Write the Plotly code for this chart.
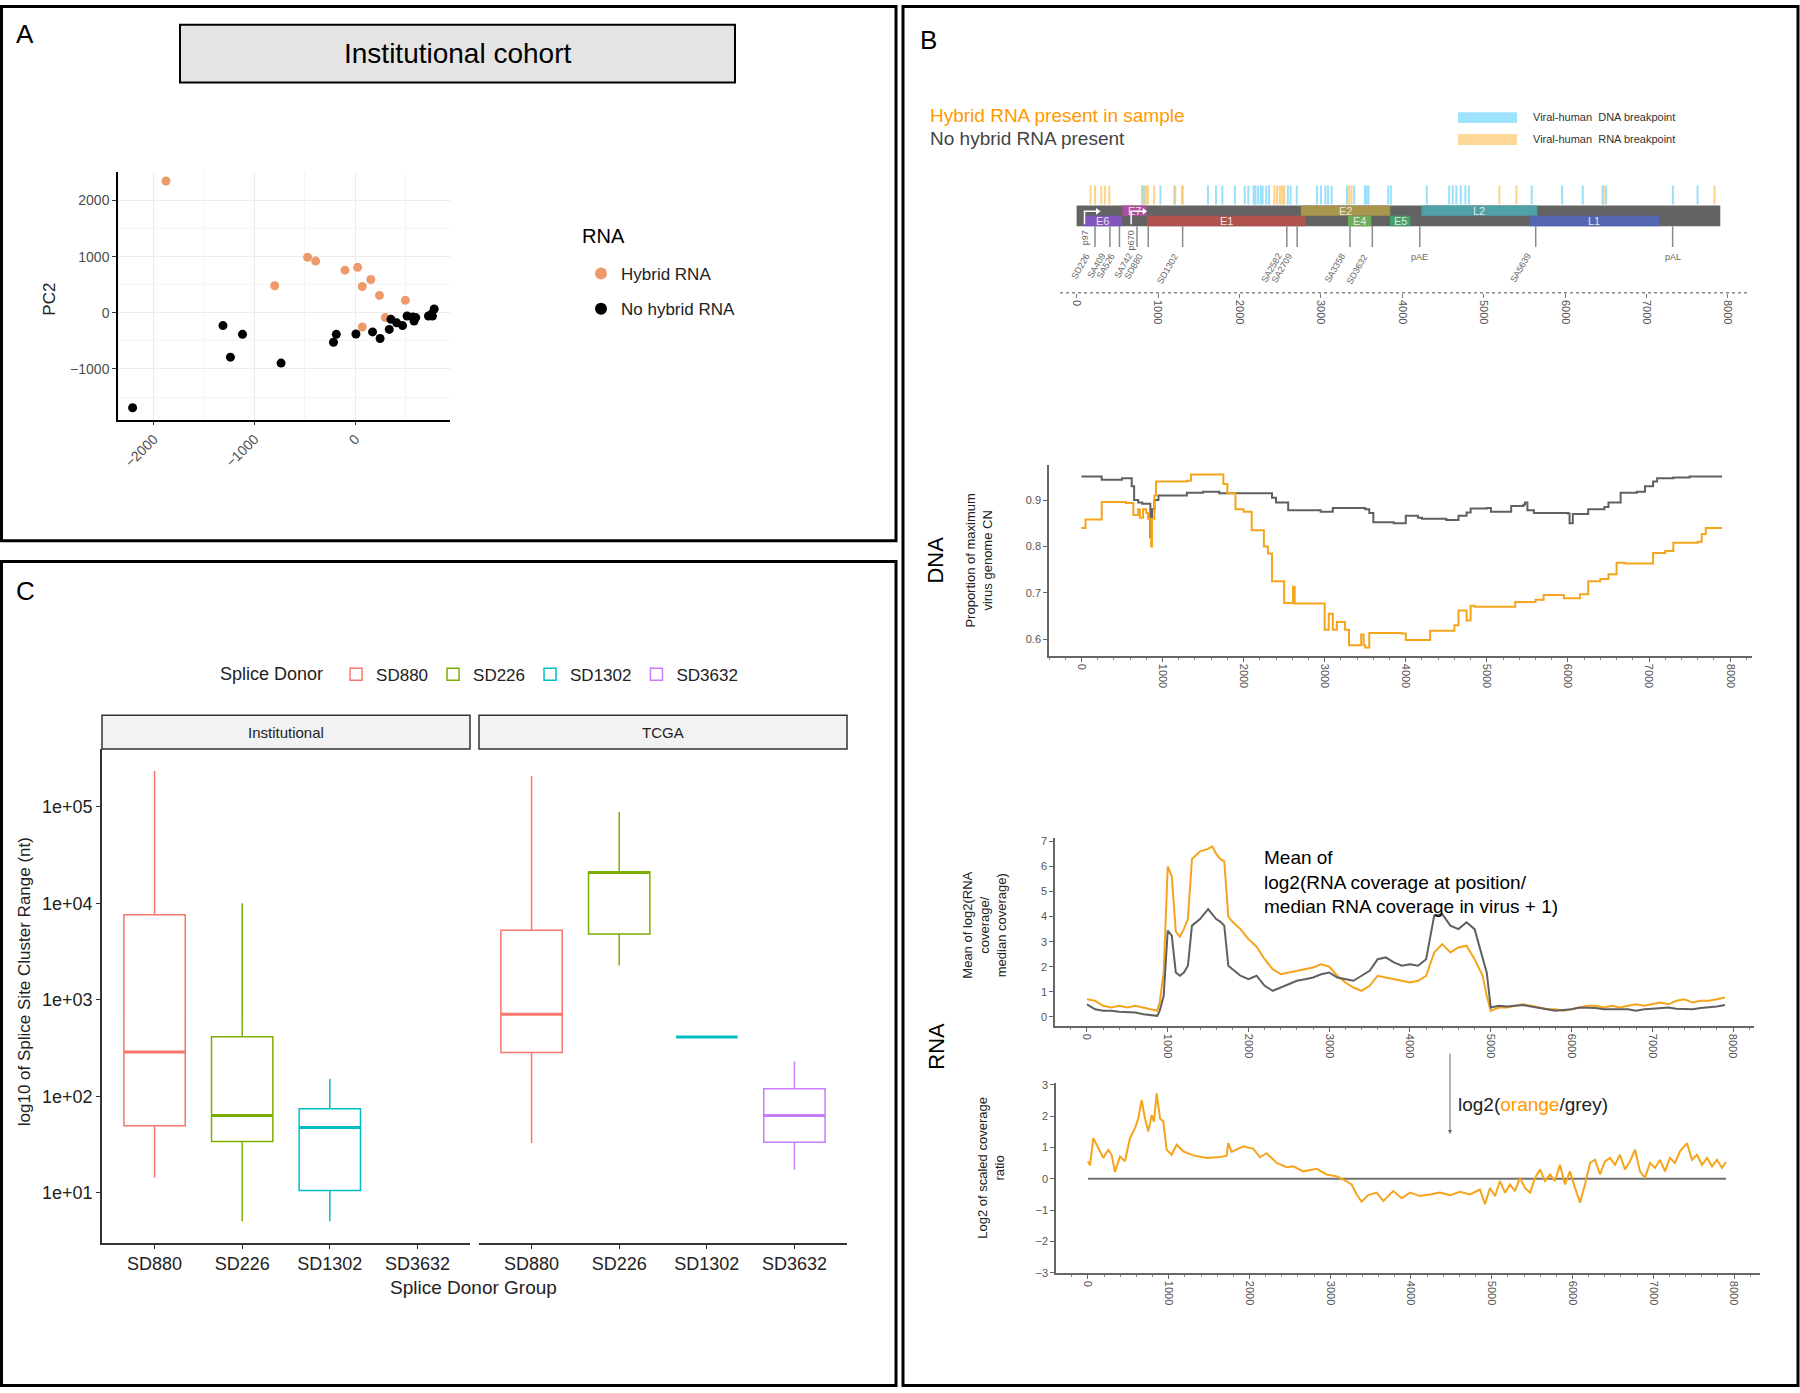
import plotly.graph_objects as go

W, H = 1800, 1393


def px(x):
    return x / W


def py(y):
    return 1 - y / H


NARROW = "Liberation Sans Narrow, Arial Narrow, sans-serif"
SANS = "Liberation Sans, Arial, sans-serif"
ORANGE = "#F5A41C"
GREY = "#606060"

# ---------------------------------------------------------------------------
# Panel A -- PCA of institutional cohort
# ---------------------------------------------------------------------------
HYB_PC1 = [-1880, -474, -394, -800, -103, 23, 154, 69, 240, 497, 297, 69]
HYB_PC2 = [2346, 988, 920, 481, 759, 809, 593, 469, 309, 222, -86, -253]
NOH_PC1 = [-2211, -1314, -1120, -1240, -737, -217, -189, 6, 171, 246, 337,
           354, 411, 469, 514, 571, 583, 600, 726, 754, 783, 766]
NOH_PC2 = [-1691, -228, -383, -790, -895, -525, -383, -377, -340, -457, -296,
           -117, -179, -228, -56, -74, -148, -86, -56, -25, 68, -56]

# ---------------------------------------------------------------------------
# Panel B -- HPV genome map
# ---------------------------------------------------------------------------
GENOME_LEN = 7906
GENES = ["E6", "E7", "E1", "E2", "E4", "E5", "L2", "L1"]
GENE_START = [83, 562, 865, 2755, 3333, 3849, 4236, 5560]
GENE_END = [559, 858, 2813, 3852, 3620, 4100, 5657, 7155]
GENE_ROW = ["low", "up", "low", "up", "low", "low", "up", "low"]
GENE_COLORS = ["#8256BF", "#B04E9C", "#B0534F", "#A8964D", "#6DAD57",
               "#44A068", "#4EA2A6", "#5566B0"]

SITES = ["SD226", "SA409", "SA526", "SA742", "SD880", "SD1302", "SA2582",
         "SA2709", "SA3358", "SD3632", "SA5639"]
SITE_POS = [226, 409, 526, 742, 880, 1302, 2582, 2709, 3358, 3632, 5639]
POLYA = ["pAE", "pAL"]
POLYA_POS = [4215, 7321]
PROMOTERS = ["p97", "p670"]
PROMOTER_POS = [97, 670]

RNA_BREAKS = [171, 226, 303, 347, 402, 820, 854, 876, 953, 1212, 1294, 1305,
              2429, 2462, 2495, 2517, 2539, 2550, 3348, 3376, 5193, 5402,
              6476, 7836]
DNA_BREAKS = [804, 832, 1030, 1201, 1614, 1713, 1790, 1944, 2065, 2109, 2175,
              2197, 2230, 2263, 2285, 2329, 2363, 2594, 2627, 2704, 2952, 3001,
              3056, 3089, 3133, 3321, 3409, 3541, 3563, 3585, 3827, 3860, 4301,
              4576, 4620, 4664, 4719, 4775, 4819, 5590, 5964, 6217, 6460, 6504,
              7324, 7627]

# DNA copy number (step lines)
DNA_GREY_POS = [0, 250, 500, 620, 650, 700, 750, 850, 870, 900, 950, 1300,
                1500, 1700, 2300, 2350, 2400, 2550, 2950, 3100, 3500, 3550,
                3600, 3850, 4000, 4150, 4200, 4500, 4650, 4750, 4800, 5000,
                5050, 5300, 5450, 5470, 5500, 5580, 6000, 6020, 6060, 6250,
                6450, 6500, 6650, 6850, 6950, 7050, 7100, 7300, 7500, 7900]
DNA_GREY = [0.951, 0.944, 0.947, 0.93, 0.90, 0.895, 0.892, 0.82, 0.88, 0.90,
            0.91, 0.916, 0.918, 0.915, 0.915, 0.905, 0.895, 0.878, 0.875,
            0.883, 0.880, 0.872, 0.852, 0.850, 0.866, 0.862, 0.860, 0.857,
            0.866, 0.873, 0.882, 0.883, 0.875, 0.887, 0.890, 0.895, 0.878,
            0.872, 0.871, 0.850, 0.870, 0.880, 0.885, 0.895, 0.916, 0.918,
            0.930, 0.940, 0.947, 0.949, 0.951, 0.951]
DNA_ORANGE_POS = [0, 50, 250, 550, 640, 700, 720, 760, 800, 820, 860, 870,
                  900, 920, 1300, 1350, 1700, 1750, 1800, 1900, 2000, 2100,
                  2250, 2300, 2350, 2500, 2610, 2630, 2950, 3000, 3050, 3100,
                  3150, 3250, 3300, 3450, 3480, 3500, 3550, 3950, 4000, 4300,
                  4600, 4650, 4750, 4800, 4850, 5350, 5600, 5700, 5950, 6150,
                  6250, 6400, 6500, 6600, 6700, 7050, 7200, 7300, 7600, 7650,
                  7700, 7900]
DNA_ORANGE = [0.840, 0.858, 0.896, 0.894, 0.868, 0.880, 0.862, 0.880, 0.872,
              0.860, 0.80, 0.86, 0.91, 0.940, 0.942, 0.955, 0.955, 0.935,
              0.915, 0.88, 0.875, 0.835, 0.80, 0.785, 0.725, 0.678, 0.713,
              0.677, 0.677, 0.62, 0.655, 0.62, 0.637, 0.62, 0.587, 0.61,
              0.587, 0.582, 0.613, 0.612, 0.598, 0.618, 0.63, 0.662, 0.64,
              0.672, 0.670, 0.68, 0.685, 0.695, 0.688, 0.697, 0.725, 0.73,
              0.74, 0.765, 0.763, 0.786, 0.79, 0.808, 0.81, 0.827, 0.84, 0.84]

# RNA coverage
RNA_POS = [0, 100, 200, 300, 400, 500, 600, 700, 800, 870, 900, 950, 1000,
           1050, 1100, 1150, 1200, 1250, 1300, 1400, 1500, 1550, 1600, 1650,
           1700, 1750, 1800, 1900, 2000, 2100, 2200, 2300, 2400, 2500, 2600,
           2700, 2800, 2900, 3000, 3100, 3200, 3300, 3400, 3500, 3600, 3700,
           3800, 3900, 4000, 4100, 4200, 4300, 4400, 4500, 4600, 4700, 4800,
           4900, 4950, 5000, 5100, 5200, 5300, 5400, 5500, 5600, 5700, 5800,
           5900, 6000, 6100, 6200, 6300, 6400, 6500, 6600, 6700, 6800, 6900,
           7000, 7100, 7200, 7300, 7400, 7500, 7600, 7700, 7800, 7900]
RNA_ORANGE = [0.70, 0.64, 0.44, 0.37, 0.44, 0.37, 0.44, 0.37, 0.30, 0.24,
              0.57, 1.77, 6.0, 5.6, 3.4, 3.2, 3.5, 3.9, 6.3,
              6.6, 6.7, 6.8, 6.5, 6.3, 6.2, 4.0, 3.8,
              3.5, 3.1, 2.8, 2.3, 1.9, 1.7, 1.77, 1.84, 1.9, 1.97,
              2.1, 2.0, 1.64, 1.37, 1.17, 1.04, 1.24, 1.64, 1.57, 1.5,
              1.44, 1.37, 1.44, 1.64, 2.57, 2.9, 2.57, 2.77, 2.84, 2.3,
              1.64, 0.84,
              0.24, 0.37, 0.37, 0.44, 0.5, 0.44, 0.37, 0.3, 0.3, 0.24,
              0.3, 0.37, 0.44, 0.44, 0.37, 0.44, 0.37, 0.44, 0.5, 0.44,
              0.5, 0.57, 0.5, 0.64, 0.7, 0.57, 0.64, 0.64, 0.7, 0.77]
RNA_GREY = [0.5, 0.3, 0.24, 0.24, 0.2, 0.2, 0.17, 0.1, 0.07, 0.04,
            0.24, 0.84, 3.44, 3.24, 1.77, 1.64, 1.77, 2.04, 3.64,
            3.9, 4.3, 4.1, 3.9, 3.8, 3.64, 2.04, 1.9,
            1.64, 1.5, 1.64, 1.24, 1.04, 1.17, 1.3, 1.44, 1.5, 1.57,
            1.7, 1.77, 1.57, 1.5, 1.44, 1.64, 1.84, 2.3, 2.37, 2.17,
            2.04, 2.1, 2.04, 2.3, 4.04, 4.1, 3.64, 3.5, 3.77, 3.5,
            2.3, 1.77,
            0.37, 0.44, 0.41, 0.44, 0.47, 0.41, 0.37, 0.3, 0.24, 0.27,
            0.3, 0.37, 0.37, 0.35, 0.3, 0.3, 0.32, 0.3, 0.24, 0.3,
            0.32, 0.35, 0.37, 0.32, 0.3, 0.3, 0.35, 0.37, 0.41, 0.47]

# log2 ratio orange/grey
RATIO_POS = [0, 25, 66, 128, 190, 252, 293, 334, 396, 458,
             520, 582, 623, 665, 706, 747, 789, 817, 851, 892,
             933, 974, 1036, 1098, 1180, 1304, 1470, 1635, 1718, 1737,
             1779, 1924, 2048, 2130, 2213, 2337, 2461, 2543, 2667, 2832,
             2956, 3080, 3162, 3265, 3327, 3389, 3471, 3575, 3657, 3781,
             3885, 3988, 4111, 4235, 4359, 4483, 4607, 4731, 4854, 4916,
             4978, 5040, 5102, 5164, 5226, 5288, 5350, 5412, 5474, 5536,
             5598, 5659, 5721, 5783, 5845, 5907, 5969, 6031, 6093, 6155,
             6217, 6279, 6341, 6402, 6464, 6526, 6588, 6650, 6712, 6774,
             6836, 6898, 6960, 7022, 7084, 7146, 7207, 7269, 7331, 7418,
             7480, 7542, 7604, 7666, 7728, 7789, 7851, 7901]
RATIO = [0.56, 0.43, 1.30, 0.98, 0.67, 0.93, 0.77, 0.22, 0.72, 0.56,
         1.30, 1.62, 1.93, 2.52, 1.93, 1.51, 2.04, 1.83, 2.73, 1.93,
         1.83, 0.93, 0.77, 1.09, 0.88, 0.75, 0.67, 0.70, 0.74, 1.14,
         0.86, 1.04, 0.96, 0.69, 0.82, 0.51, 0.37, 0.40, 0.24, 0.32,
         0.14, 0.08, -0.02, -0.18, -0.50, -0.73, -0.52, -0.44, -0.71, -0.39,
         -0.62, -0.44, -0.55, -0.50, -0.44, -0.52, -0.41, -0.50, -0.34, -0.81,
         -0.29, -0.55, -0.07, -0.44, -0.18, -0.39, 0.03, -0.29, -0.44, 0.03,
         0.30, -0.07, 0.14, -0.07, 0.45, -0.18, 0.24, -0.29, -0.76, -0.18,
         0.51, 0.61, 0.14, 0.56, 0.67, 0.45, 0.77, 0.30, 0.56, 0.93,
         0.24, 0.03, 0.51, 0.35, 0.61, 0.24, 0.67, 0.51, 0.88, 1.14,
         0.61, 0.77, 0.45, 0.67, 0.40, 0.61, 0.35, 0.54]

# ---------------------------------------------------------------------------
# Panel C -- splice site cluster range
# ---------------------------------------------------------------------------
GROUPS = ["SD880", "SD226", "SD1302", "SD3632"]
BOX_COLORS = ["#F8766D", "#7CAE00", "#00BFC4", "#C77CFF"]
INST_LOW = [14.4, 5.1, 5.1, None]
INST_Q1 = [49.5, 34, 10.6, None]
INST_MED = [288, 63.5, 47.5, None]
INST_Q3 = [7600, 414, 74.5, None]
INST_HIGH = [234000, 10000, 152, None]
TCGA_LOW = [32.8, 2270, 411, 17.5]
TCGA_Q1 = [284, 4800, 411, 33.4]
TCGA_MED = [707, 20800, 411, 63.5]
TCGA_Q3 = [5250, 21000, 411, 120]
TCGA_HIGH = [208000, 87800, 411, 229]


def segs(positions, y0, y1):
    xs, ys = [], []
    for p in positions:
        xs += [p, p, None]
        ys += [y0, y1, None]
    return xs, ys


fig = go.Figure()

# ---- A: scatter
fig.add_trace(go.Scatter(x=HYB_PC1, y=HYB_PC2, mode="markers", name="Hybrid RNA",
                         marker=dict(color="#EE9A6A", size=9), legendgroup="h",
                         xaxis="x", yaxis="y"))
fig.add_trace(go.Scatter(x=NOH_PC1, y=NOH_PC2, mode="markers", name="No hybrid RNA",
                         marker=dict(color="black", size=9), legendgroup="n",
                         xaxis="x", yaxis="y"))

# ---- B: genome map (y2 in pixel-like units)
bx, by = segs(DNA_BREAKS, 182, 201)
fig.add_trace(go.Scatter(x=bx, y=by, mode="lines", showlegend=False, hoverinfo="skip",
                         line=dict(color="rgba(130,215,248,0.8)", width=2),
                         xaxis="x2", yaxis="y2"))
bx, by = segs(RNA_BREAKS, 182, 201)
fig.add_trace(go.Scatter(x=bx, y=by, mode="lines", showlegend=False, hoverinfo="skip",
                         line=dict(color="rgba(252,200,110,0.8)", width=2),
                         xaxis="x2", yaxis="y2"))
fig.add_trace(go.Bar(y=[212.5], x=[GENOME_LEN], base=[0], width=[21], orientation="h",
                     marker=dict(color="#636363", line_width=0), showlegend=False,
                     xaxis="x2", yaxis="y2"))
ROW_Y = {"up": 207.3, "low": 217.7}
for g, s, e, r, c in zip(GENES, GENE_START, GENE_END, GENE_ROW, GENE_COLORS):
    fig.add_trace(go.Bar(y=[ROW_Y[r]], x=[e - s], base=[s], width=[10.4], orientation="h",
                         marker=dict(color=c, line_width=0), showlegend=False,
                         xaxis="x2", yaxis="y2"))
    fig.add_annotation(x=(s + e) / 2, y=ROW_Y[r], xref="x2", yref="y2", text=g,
                       showarrow=False, font=dict(size=11, color="#e6e6e6", family=SANS))

fx, fy = segs(SITE_POS + POLYA_POS, 223, 244)
fig.add_trace(go.Scatter(x=fx, y=fy, mode="lines", showlegend=False, hoverinfo="skip",
                         line=dict(color="#8a8a8a", width=1.5), xaxis="x2", yaxis="y2"))
for name, pos in zip(SITES, SITE_POS):
    fig.add_annotation(x=pos, y=246, xref="x2", yref="y2", text=name, textangle=-60,
                       xanchor="right", yanchor="top", showarrow=False,
                       font=dict(size=9, color="#666", family=NARROW))
for name, pos in zip(POLYA, POLYA_POS):
    fig.add_annotation(x=pos, y=247, xref="x2", yref="y2", text=name,
                       yanchor="top", showarrow=False,
                       font=dict(size=9, color="#666", family=NARROW))
for name, pos in zip(PROMOTERS, PROMOTER_POS):
    fig.add_trace(go.Scatter(x=[pos, pos, pos + 150], y=[221, 208, 208], mode="lines",
                             line=dict(color="white", width=1.5), showlegend=False,
                             hoverinfo="skip", xaxis="x2", yaxis="y2"))
    fig.add_trace(go.Scatter(x=[pos + 160], y=[208], mode="markers",
                             marker=dict(symbol="triangle-right", size=6, color="white"),
                             showlegend=False, hoverinfo="skip", xaxis="x2", yaxis="y2"))
    fig.add_annotation(x=pos, y=225, xref="x2", yref="y2", text=name, textangle=-90,
                       xanchor="center", yanchor="top", showarrow=False,
                       font=dict(size=9, color="#666", family=NARROW))

# ---- B: DNA
fig.add_trace(go.Scatter(x=DNA_GREY_POS, y=DNA_GREY, mode="lines", line_shape="hv",
                         line=dict(color=GREY, width=2), showlegend=False,
                         xaxis="x3", yaxis="y3"))
fig.add_trace(go.Scatter(x=DNA_ORANGE_POS, y=DNA_ORANGE, mode="lines", line_shape="hv",
                         line=dict(color=ORANGE, width=2), showlegend=False,
                         xaxis="x3", yaxis="y3"))

# ---- B: RNA coverage
fig.add_trace(go.Scatter(x=RNA_POS, y=RNA_ORANGE, mode="lines",
                         line=dict(color=ORANGE, width=2), showlegend=False,
                         xaxis="x4", yaxis="y4"))
fig.add_trace(go.Scatter(x=RNA_POS, y=RNA_GREY, mode="lines",
                         line=dict(color=GREY, width=2), showlegend=False,
                         xaxis="x4", yaxis="y4"))

# ---- B: ratio
fig.add_trace(go.Scatter(x=[RATIO_POS[0], RATIO_POS[-1]], y=[0, 0], mode="lines",
                         line=dict(color="#707070", width=2), showlegend=False,
                         xaxis="x5", yaxis="y5"))
fig.add_trace(go.Scatter(x=RATIO_POS, y=RATIO, mode="lines",
                         line=dict(color=ORANGE, width=2), showlegend=False,
                         xaxis="x5", yaxis="y5"))

# ---- C: boxes
shown = set()
for facet, stats, xa, ya in [
    ("inst", (INST_LOW, INST_Q1, INST_MED, INST_Q3, INST_HIGH), "x6", "y6"),
    ("tcga", (TCGA_LOW, TCGA_Q1, TCGA_MED, TCGA_Q3, TCGA_HIGH), "x7", "y7"),
]:
    lo, q1, med, q3, hi = stats
    for i, (g, c) in enumerate(zip(GROUPS, BOX_COLORS)):
        if med[i] is None:
            continue
        fig.add_trace(go.Box(
            x=[i], lowerfence=[lo[i]], q1=[q1[i]], median=[med[i]], q3=[q3[i]],
            upperfence=[hi[i]], width=0.7, whiskerwidth=0, name=g,
            fillcolor="white", line=dict(color=c, width=1.5),
            showlegend=g not in shown, legend="legend2", legendrank=i,
            xaxis=xa, yaxis=ya))
        shown.add(g)
        # ggplot draws the median thicker than the box outline
        fig.add_trace(go.Scatter(x=[i - 0.35, i + 0.35], y=[med[i], med[i]],
                                 mode="lines", line=dict(color=c, width=3),
                                 showlegend=False, hoverinfo="skip",
                                 xaxis=xa, yaxis=ya))

# ---------------------------------------------------------------------------
# layout
# ---------------------------------------------------------------------------
tick_b = dict(size=11, color="#555", family=NARROW)
xb = dict(showline=True, linecolor="#666", linewidth=1.5, ticks="outside", ticklen=4,
          tickcolor="#666", tickvals=list(range(0, 8001, 1000)), tickangle=90,
          tickfont=tick_b, showgrid=False, zeroline=False,
          minor=dict(dtick=200, ticks="outside", ticklen=2, tickcolor="#888"))
yb = dict(showline=True, linecolor="#666", linewidth=1.5, ticks="outside", ticklen=4,
          tickcolor="#666", tickfont=tick_b, showgrid=False, zeroline=False)
xc = dict(range=[-0.6, 3.6], tickvals=[0, 1, 2, 3], ticktext=GROUPS, showline=True,
          linecolor="#333", linewidth=1.5, ticks="outside", ticklen=4, tickcolor="#333",
          tickfont=dict(size=18, color="#222", family=NARROW), showgrid=False,
          zeroline=False)

fig.update_layout(
    width=W, height=H, margin=dict(l=0, r=0, t=0, b=0),
    paper_bgcolor="white", plot_bgcolor="white",
    font=dict(family=SANS, color="#222"),
    barmode="overlay", boxmode="overlay",
    legend=dict(x=px(581), y=py(253), xanchor="left", yanchor="top",
                font=dict(size=17, family=NARROW), tracegroupgap=10,
                itemsizing="constant", bgcolor="rgba(0,0,0,0)"),
    legend2=dict(x=px(218), y=py(675), xanchor="left", yanchor="middle",
                 orientation="h", title=dict(text="Splice Donor ", side="left",
                                             font=dict(size=18, family=NARROW)),
                 font=dict(size=17, family=NARROW), bgcolor="rgba(0,0,0,0)"),
    xaxis=dict(domain=[px(118), px(450)], range=[-2356, 940], anchor="y",
               showline=True, linecolor="black", linewidth=1.5, ticks="outside",
               ticklen=4, tickcolor="#333", tickvals=[-2000, -1000, 0], tickangle=-45,
               tickfont=dict(size=14, color="#4d4d4d"), showgrid=True,
               gridcolor="#ececec", zeroline=False,
               minor=dict(tickvals=[-1500, -500, 500], showgrid=True, gridcolor="#f4f4f4")),
    yaxis=dict(domain=[py(418), py(168)], range=[-1903, 2512], anchor="x",
               showline=True, linecolor="black", linewidth=1.5, ticks="outside",
               ticklen=4, tickcolor="#333", tickvals=[-1000, 0, 1000, 2000],
               tickfont=dict(size=14, color="#4d4d4d"), showgrid=True,
               gridcolor="#ececec", zeroline=False,
               minor=dict(tickvals=[-1500, -500, 500, 1500], showgrid=True,
                          gridcolor="#f4f4f4")),
    xaxis2=dict(domain=[px(1060), px(1760)], range=[-204, 8394], anchor="y2",
                showline=False, ticks="outside", ticklen=4, tickcolor="#777",
                tickvals=list(range(0, 8001, 1000)), tickangle=90, tickfont=tick_b,
                showgrid=False, zeroline=False),
    yaxis2=dict(domain=[py(290), py(173)], range=[290, 173], anchor="x2", visible=False),
    xaxis3=dict(xb, domain=[px(1049), px(1752)], range=[-400, 8270], anchor="y3"),
    yaxis3=dict(yb, domain=[py(656), py(464)], range=[0.564, 0.975], anchor="x3",
                tickvals=[0.6, 0.7, 0.8, 0.9]),
    xaxis4=dict(xb, domain=[px(1055), px(1754)], range=[-396, 8260], anchor="y4"),
    yaxis4=dict(yb, domain=[py(1029), py(840)], range=[-0.36, 7.12], anchor="x4",
                tickvals=list(range(0, 8))),
    xaxis5=dict(xb, domain=[px(1056), px(1760)], range=[-396, 8322], anchor="y5"),
    yaxis5=dict(yb, domain=[py(1278), py(1087)], range=[-3.005, 3.05], anchor="x5",
                tickvals=[-3, -2, -1, 0, 1, 2, 3]),
    xaxis6=dict(xc, domain=[px(102), px(470)], anchor="y6"),
    yaxis6=dict(domain=[py(1248), py(750)], type="log", range=[0.48, 5.596],
                anchor="x6", tickvals=[10, 100, 1e3, 1e4, 1e5],
                ticktext=["1e+01", "1e+02", "1e+03", "1e+04", "1e+05"],
                showline=True, linecolor="#333", linewidth=1.5, ticks="outside",
                ticklen=4, tickcolor="#333",
                tickfont=dict(size=18, color="#222", family=NARROW),
                showgrid=False, zeroline=False),
    xaxis7=dict(xc, domain=[px(479), px(847)], anchor="y7"),
    yaxis7=dict(domain=[py(1248), py(750)], type="log", range=[0.48, 5.596],
                anchor="x7", visible=False),
)

# ---- shapes: panel frames, boxes, legends
shapes = [
    dict(type="rect", xref="paper", yref="paper", x0=px(1.5), x1=px(896),
         y0=py(540), y1=py(1.5), line=dict(color="black", width=3)),
    dict(type="rect", xref="paper", yref="paper", x0=px(903), x1=px(1798),
         y0=py(1391.5), y1=py(1.5), line=dict(color="black", width=3)),
    dict(type="rect", xref="paper", yref="paper", x0=px(1.5), x1=px(896),
         y0=py(1391.5), y1=py(561), line=dict(color="black", width=3)),
    dict(type="rect", xref="paper", yref="paper", x0=px(180), x1=px(735),
         y0=py(78), y1=py(20), fillcolor="#e4e4e4", line=dict(color="black", width=2)),
    dict(type="rect", xref="paper", yref="paper", x0=px(102), x1=px(470),
         y0=py(750), y1=py(716), fillcolor="#f2f2f2", line=dict(color="#333", width=1.5)),
    dict(type="rect", xref="paper", yref="paper", x0=px(479), x1=px(847),
         y0=py(750), y1=py(716), fillcolor="#f2f2f2", line=dict(color="#333", width=1.5)),
    dict(type="rect", xref="paper", yref="paper", x0=px(1458), x1=px(1517),
         y0=py(119), y1=py(108), fillcolor="#9ee3fb", line_width=0),
    dict(type="rect", xref="paper", yref="paper", x0=px(1458), x1=px(1517),
         y0=py(141), y1=py(130), fillcolor="#fdd898", line_width=0),
    dict(type="line", xref="paper", yref="paper", x0=px(1060), x1=px(1748),
         y0=py(290), y1=py(290), line=dict(color="#888", width=1.5, dash="dot")),
]
fig.update_layout(shapes=shapes)


def note(text, x, y, size, color="#222", family=SANS, angle=0, xanchor="center",
         yanchor="middle", align="center"):
    fig.add_annotation(text=text, x=px(x), y=py(y), xref="paper", yref="paper",
                       showarrow=False, textangle=angle, xanchor=xanchor,
                       yanchor=yanchor, align=align,
                       font=dict(size=size, color=color, family=family))


note("A", 14, 29, 26, xanchor="left", color="black")
note("B", 918, 35, 26, xanchor="left", color="black")
note("C", 14, 591, 26, xanchor="left", color="black")
note("Institutional cohort", 457, 49, 28, family=NARROW, color="black")
note("PC2", 50, 297, 17, angle=-90)
note("RNA", 580, 233, 20, family=NARROW, xanchor="left", color="black")

note("Hybrid RNA present in sample", 928, 111, 19, color="#FF9900", xanchor="left")
note("No hybrid RNA present", 928, 135, 19, color="#444", xanchor="left")
note("Viral-human  DNA breakpoint", 1531, 113, 11, color="#333", family=NARROW,
     xanchor="left")
note("Viral-human  RNA breakpoint", 1531, 135, 11, color="#333", family=NARROW,
     xanchor="left")

note("DNA", 936, 560, 22, angle=-90, color="black")
note("Proportion of maximum<br>virus genome CN", 979, 560, 13, angle=-90, color="#222")
note("RNA", 937, 1050, 22, angle=-90, color="black")
note("Mean of log2(RNA<br>coverage/<br>median coverage)", 985, 928, 13, angle=-90)
note("Log2 of scaled coverage<br>ratio", 991, 1172, 13, angle=-90)
note("Mean of<br>log2(RNA coverage at position/<br>median RNA coverage in virus + 1)",
     1262, 847, 19, family=NARROW, xanchor="left", yanchor="top", align="left",
     color="black")
note("log2(<span style='color:#FF9900'>orange</span>/grey)", 1456, 1108, 19,
     family=NARROW, xanchor="left", color="#222")
fig.add_annotation(x=px(1450), y=py(1138), xref="paper", yref="paper", ax=0, ay=-82,
                   showarrow=True, arrowhead=2, arrowsize=0.8, arrowwidth=1,
                   arrowcolor="#666", text="")

note("Institutional", 286, 733, 15, family=NARROW, color="#222")
note("TCGA", 663, 733, 15, family=NARROW, color="#222")
note("Splice Donor Group", 474, 1293, 19, family=NARROW, color="#222")
note("log10 of Splice Site Cluster Range (nt)", 24, 985, 17, angle=-90, color="#222")

fig.write_html("out.html", config={"displayModeBar": False},
               post_script="document.body.style.margin='0px';")
